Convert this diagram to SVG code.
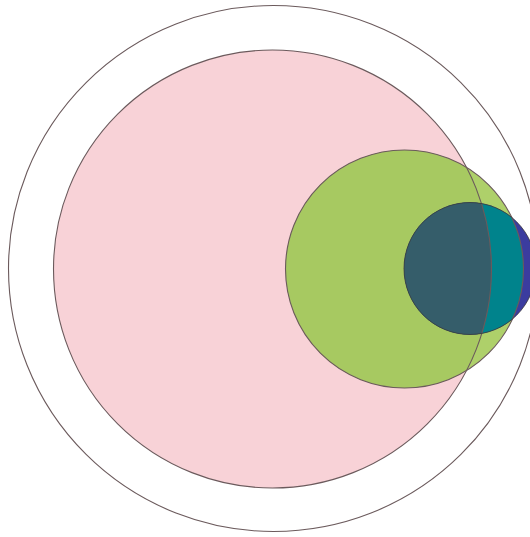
<svg xmlns="http://www.w3.org/2000/svg" width="530" height="537" viewBox="0 0 530 537">
  <style>
    .edge { fill: none; stroke: #6b5a5c; stroke-width: 1.1; }
    .edge-dark { fill: none; stroke: #3d3a3c; stroke-width: 1; stroke-opacity: 0.8; }
  </style>
  <defs>
    <clipPath id="clipPink"><circle cx="272.5" cy="269" r="219"/></clipPath>
    <clipPath id="clipGreen"><circle cx="404.5" cy="269" r="119"/></clipPath>
  </defs>
  <rect width="530" height="537" fill="#ffffff"/>

  <g id="outer">
    <ellipse cx="273.5" cy="268.5" rx="265" ry="263" fill="#ffffff"/>
  </g>

  <g id="pink">
    <circle cx="272.5" cy="269" r="219" fill="#f8d2d7"/>
  </g>

  <g id="green">
    <circle cx="404.5" cy="269" r="119" fill="#aed06a"/>
    <circle cx="404.5" cy="269" r="119" fill="#a7c961" clip-path="url(#clipPink)"/>
  </g>

  <g id="blue">
    <circle cx="470" cy="268.5" r="66" fill="#3b3c9f"/>
    <circle cx="470" cy="268.5" r="66" fill="#00838c" clip-path="url(#clipGreen)"/>
    <g clip-path="url(#clipGreen)">
      <circle cx="470" cy="268.5" r="66" fill="#355d6a" clip-path="url(#clipPink)"/>
    </g>
  </g>

  <g id="outlines">
    <ellipse class="edge" cx="273.5" cy="268.5" rx="265" ry="263"/>
    <circle class="edge" cx="272.5" cy="269" r="219"/>
    <circle class="edge" cx="404.5" cy="269" r="119"/>
    <circle class="edge-dark" cx="470" cy="268.5" r="66"/>
  </g>
</svg>
